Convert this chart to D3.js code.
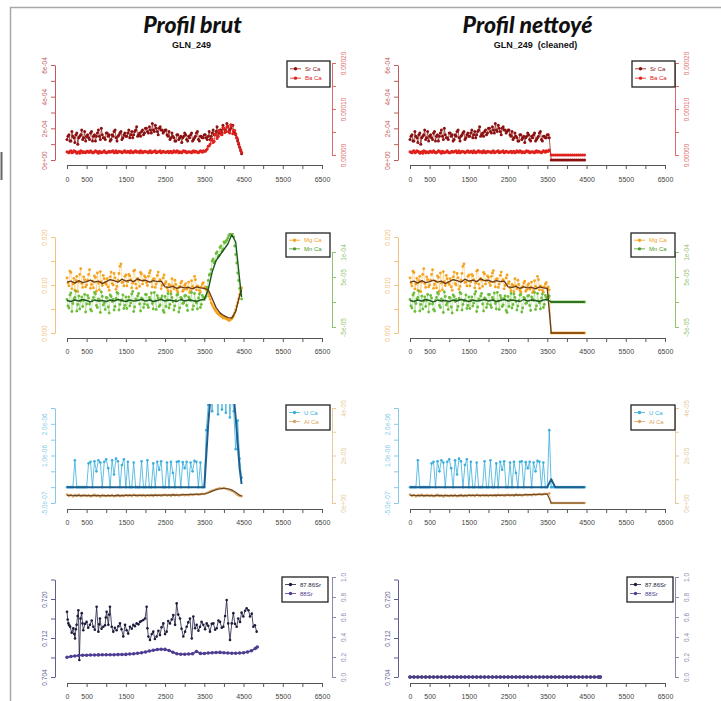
<!DOCTYPE html>
<html><head><meta charset="utf-8">
<script src="https://cdn.jsdelivr.net/npm/d3@7"></script>
<style>body{margin:0;background:#fff}svg{display:block}</style>
</head><body>
<script>
// ---------------- DATA ----------------
const titles = ["Profil brut", "Profil nettoyé"];
const subtitles = ["GLN_249", "GLN_249  (cleaned)"];

const xTicks = [0,500,1000,1500,2000,2500,3000,3500,4000,4500,5000,5500,6000,6500];
const xTickLabels = ["0","500","","1500","","2500","","3500","","4500","","5500","","6500"];

// sample positions (µm) of the raw LA profile (two interleaved acquisitions)
const dist = [0,50,100,150,200,250,300,350,400,450,
  500,550,600,650,700,750,800,850,900,950,
  1000,1050,1100,1150,1200,1250,1300,1350,1400,1450,
  1500,1550,1600,1650,1700,1750,1800,1850,1900,1950,
  2000,2050,2100,2150,2200,2250,2300,2350,2400,2450,
  2500,2550,2600,2650,2700,2750,2800,2850,2900,2950,
  3000,3050,3100,3150,3200,3250,3300,3350,3400,3450,
  3500,3550,3600,3650,3700,3750,3800,3850,3900,3950,
  4000,4050,4100,4150,4200,4250,4300,4350,4400,4450];
const dist2 = [25,75,125,175,225,275,325,375,425,475,
  525,575,625,675,725,775,825,875,925,975,
  1025,1075,1125,1175,1225,1275,1325,1375,1425,1475,
  1525,1575,1625,1675,1725,1775,1825,1875,1925,1975,
  2025,2075,2125,2175,2225,2275,2325,2375,2425,2475,
  2525,2575,2625,2675,2725,2775,2825,2875,2925,2975,
  3025,3075,3125,3175,3225,3275,3325,3375,3425,3475,
  3525,3575,3625,3675,3725,3775,3825,3875,3925,3975,
  4025,4075,4125,4175,4225,4275,4325,4375,4425];
// positions of running-mean curves
const meanDist = [0,100,200,300,400,500,600,700,800,900,1000,1100,1200,1300,1400,1500,1600,1700,1800,1900,
  2000,2100,2200,2300,2400,2500,2600,2700,2800,2900,3000,3100,3200,3300,3400,3500,3600,3700,3800,3900,
  4000,4100,4200,4300,4400,4450];
// cleaned profile: values kept up to this position, then the cleaned tail
const cleanCut = 3550;
const cleanMeanCut = 3500;
const tailDist = [3600,3650,3700,3750,3800,3850,3900,3950,4000,4050,4100,4150,4200,4250,4300,4350,4400,4450];
const tailValues = [0,0,0,0,0,0,0,0,0,0,0,0,0,0,0,0,0,0];
const tailMeanDist = [3600,3700,3800,3900,4000,4100,4200,4300,4400,4450];
const tailMeanValues = [0,0,0,0,0,0,0,0,0,0];
const tailMeanU = [0.25,0,0,0,0,0,0,0,0,0];

// Sr/Ca (x1e-4, left axis)
const srCa = [1.3,1.6,1.2,1.5,1.1,1.7,1.4,1.6,1.3,1.8,1.5,
  1.4,1.7,1.2,1.6,1.5,1.9,1.3,1.6,1.4,1.7,
  1.5,1.2,1.6,1.8,1.4,1.5,1.7,1.3,1.6,1.5,
  1.7,1.4,1.8,1.6,1.9,1.5,1.7,1.8,1.6,2.0,
  1.8,2.1,1.7,1.9,2.2,1.8,2.0,1.9,1.7,1.9,
  1.6,1.8,1.4,1.5,1.2,1.6,1.3,1.5,1.4,1.7,
  1.3,1.5,1.6,1.2,1.4,1.7,1.3,1.5,1.4,1.6,
  1.4,1.5,1.3,1.7,1.6,1.8,1.5,1.9,1.7,2.0,
  1.8,2.1,1.9,2.2,1.8,1.6,1.2,0.8,0.4];
const srCa2 = [1.5,1.2,1.8,1.4,1.6,1.0,1.5,1.9,1.4,1.2,
  1.6,1.3,1.8,1.5,1.2,1.7,1.5,2.0,1.4,1.3,
  1.7,1.6,1.3,1.5,1.9,1.2,1.6,1.8,1.4,1.7,
  1.5,1.9,1.6,1.4,1.8,2.1,1.6,1.5,1.9,1.7,
  2.0,1.7,1.9,2.3,1.8,2.0,1.6,2.1,1.9,1.8,
  1.9,1.5,1.3,1.7,1.4,1.2,1.6,1.4,1.1,1.5,
  1.6,1.2,1.4,1.7,1.3,1.5,1.8,1.2,1.5,1.4,
  1.6,1.3,1.8,1.5,1.9,1.6,2.1,1.7,1.9,2.2,
  1.9,2.3,1.8,2.0,2.2,1.7,1.4,1.0,0.6];
// Ba/Ca (x1e-5, right axis)
const baCa = [0.7,0.5,0.9,0.6,0.8,0.4,0.7,0.9,0.5,0.6,0.8,
  0.6,0.9,0.5,0.7,0.8,0.4,0.7,0.6,0.9,0.5,
  0.7,0.6,0.8,0.5,0.9,0.6,0.7,0.5,0.8,0.6,
  0.8,0.5,0.7,0.6,0.9,0.7,0.5,0.8,0.6,0.7,
  0.6,0.8,0.5,0.7,0.9,0.6,0.7,0.5,0.8,0.6,
  0.7,0.5,0.8,0.6,0.7,0.9,0.5,0.6,0.8,0.7,
  0.5,0.7,0.6,0.8,0.6,0.7,0.5,0.9,0.6,0.8,
  1.1,1.9,2.4,3.5,3.0,4.6,4.0,5.2,4.4,5.8,
  5.2,6.3,4.8,6.4,5.3,4.6,3.5,1.8,0.6];
const baCa2 = [0.6,0.8,0.5,0.9,0.7,0.6,0.4,0.8,0.7,0.5,
  0.8,0.6,0.7,0.5,0.9,0.6,0.8,0.5,0.7,0.6,
  0.5,0.8,0.7,0.9,0.6,0.5,0.8,0.7,0.6,0.9,
  0.6,0.7,0.9,0.5,0.8,0.6,0.7,0.9,0.5,0.8,
  0.7,0.5,0.9,0.6,0.8,0.5,0.7,0.9,0.6,0.7,
  0.6,0.8,0.7,0.5,0.9,0.6,0.8,0.7,0.5,0.9,
  0.8,0.6,0.7,0.5,0.9,0.8,0.6,0.7,0.8,0.9,
  0.8,1.3,2.0,3.2,2.7,4.4,3.6,5.3,4.5,6.0,
  4.9,6.1,5.0,6.6,4.6,5.3,3.8,2.6,1.2];
// Mg/Ca (x1e-3, left axis)
const mgCa = [11.5,9.8,12.6,10.2,8.9,11.8,10.6,13.4,9.5,11.1,10.0,
  12.2,9.3,10.8,11.9,8.7,10.4,12.8,9.9,11.3,10.1,
  9.6,11.7,10.3,12.4,9.1,11.0,13.9,10.5,9.8,12.1,
  10.7,11.9,9.4,12.9,10.2,11.4,9.7,12.3,10.9,11.6,
  9.9,12.5,10.6,11.2,9.5,12.0,10.8,9.2,11.5,10.3,
  9.4,10.1,8.6,9.8,11.0,8.9,9.5,10.4,8.7,9.9,
  9.1,10.6,8.8,9.7,11.8,9.0,9.6,8.5,10.2,9.3,
  9.0,8.2,7.0,5.9,5.1,4.5,4.0,3.7,3.4,3.2,
  3.0,2.8,2.7,3.0,3.6,4.8,6.3,8.0,9.4];
const mgCa2 = [10.4,12.9,9.2,11.4,10.9,8.6,12.2,10.3,11.7,9.6,
  11.0,13.2,10.1,9.4,11.6,12.5,9.0,10.7,12.0,10.5,
  11.3,8.9,12.7,10.0,11.5,9.7,12.4,14.4,10.6,11.8,
  9.8,12.2,11.1,10.4,13.1,9.3,11.0,12.6,10.2,11.9,
  10.5,11.8,13.0,9.6,11.3,10.2,12.7,11.1,9.9,12.1,
  10.7,8.8,9.9,11.3,9.2,10.1,8.5,9.7,10.8,9.0,
  10.3,9.5,8.4,10.9,9.4,11.1,9.8,8.9,9.6,10.5,
  9.6,8.5,7.6,6.3,5.5,4.8,4.2,3.9,3.5,3.1,
  3.1,2.9,2.6,2.8,3.3,4.2,5.6,7.1,8.7];
const mgMean = [10.6,10.8,10.4,10.9,10.5,10.7,11.0,10.6,10.8,10.3,
  10.7,11.1,10.9,10.6,11.2,10.8,11.0,10.7,11.3,10.9,
  11.0,10.6,10.9,10.7,10.8,9.6,9.5,9.7,9.3,9.6,9.4,9.5,9.2,9.6,9.4,
  9.3,9.0,7.2,5.3,4.2,3.6,3.2,3.1,4.5,7.8,9.0];
// Mn/Ca (x1e-5, right axis)
const mnCa = [0.5,-1.2,1.8,-0.3,0.9,-1.8,1.2,0.2,-0.9,1.5,-0.4,
  0.8,-1.5,0.3,1.9,-0.7,0.6,-2.1,1.1,-0.2,0.9,
  -1.0,1.4,0.1,-1.6,0.7,1.7,-0.5,0.4,-1.3,1.0,
  0.3,-0.8,1.6,-1.9,0.6,1.2,-0.4,0.8,-1.1,1.5,
  -0.6,0.9,1.8,-1.4,0.2,1.3,-0.9,0.7,-1.7,1.1,
  0.4,-1.2,1.6,0.1,-0.8,1.4,-2.0,0.9,-0.3,1.2,
  -0.7,1.0,0.3,-1.5,1.7,-0.2,0.8,-1.1,1.3,0.5,
  1.2,4.3,5.6,8.2,7.8,9.7,9.0,10.9,10.1,12.0,
  12.1,12.8,13.6,14.2,13.0,9.5,5.8,2.7,0.6];
const mnCa2 = [-0.8,1.4,-1.9,0.6,2.2,-0.5,-1.4,1.0,0.3,-2.0,
  1.3,-0.4,-1.8,0.9,1.6,-1.1,0.4,2.0,-0.6,-1.5,
  0.8,-2.2,1.1,0.5,-0.9,1.9,-1.6,0.2,1.4,-0.7,
  -1.3,1.0,-0.2,2.1,-1.0,0.4,1.7,-1.8,0.6,-0.4,
  1.5,-1.1,0.5,-0.3,1.9,-1.5,0.8,-0.6,1.2,-2.1,
  -0.9,1.7,-0.5,0.9,-1.6,0.3,1.5,-1.2,0.7,-0.2,
  1.3,-1.7,0.6,1.9,-0.8,0.2,-1.4,1.6,-0.5,0.9,
  0.9,2.9,5.4,6.5,8.6,8.1,10.0,9.3,11.2,10.6,
  11.8,12.4,13.3,14.0,13.8,11.2,7.8,4.3,1.5];
const mnMean = [0.3,0.1,0.4,0.2,0.5,0.3,0.0,0.4,0.2,0.3,
  0.1,0.4,0.2,0.5,0.3,0.1,0.4,0.2,0.3,0.5,
  0.2,0.4,0.1,0.3,0.5,0.2,0.4,0.3,0.1,0.5,0.2,0.4,0.3,0.1,0.4,
  0.5,2.5,6.0,8.3,9.4,10.5,11.6,13.5,12.0,4.5,1.0];
// U/Ca (x1e-6, left axis)
const uCa = [0,0,0,0,0.85,0,0,0,0,0,
  0,0.75,0.8,0,0.82,0.5,0.85,0.78,0,0.8,
  0.88,0.6,0,0.85,0.4,0.9,0.82,0,0.7,0.88,
  0,0.8,0,0,0.78,0,0,0,0.82,0,
  0,0.85,0,0,0.75,0,0.8,0.55,0.82,0,
  0,0.78,0,0.8,0.45,0,0.8,0.82,0,0.79,
  0.6,0.8,0,0.78,0.5,0.83,0.8,0,0.78,0,
  0,1.8,2.6,3.4,2.4,4.0,3.1,2.3,4.2,2.45,
  3.6,2.35,4.4,2.2,3.0,2.4,1.2,2.1,0.9,0.3];
const uMean = [0,0,0,0,0,0,0,0,0,0,0,0,0,0,0,0,0,0,0,0,
  0,0,0,0,0,0,0,0,0,0,0,0,0,0,0,0,2.0,3.5,3.5,3.5,
  3.5,3.5,3.5,2.2,0.6,0.1];
// Al/Ca (x1e-5, right axis)
const alCa = [0.36,0.30,0.34,0.28,0.33,0.31,0.35,0.29,0.32,0.34,0.30,
  0.33,0.28,0.31,0.35,0.30,0.32,0.27,0.33,0.31,0.29,
  0.32,0.30,0.34,0.28,0.31,0.33,0.29,0.32,0.30,0.34,
  0.31,0.33,0.29,0.35,0.32,0.30,0.34,0.31,0.33,0.29,
  0.34,0.31,0.33,0.30,0.35,0.32,0.34,0.31,0.33,0.35,
  0.32,0.34,0.31,0.36,0.33,0.35,0.32,0.34,0.36,0.33,
  0.35,0.33,0.37,0.34,0.36,0.38,0.35,0.37,0.39,0.38,
  0.41,0.44,0.48,0.52,0.55,0.58,0.60,0.62,0.61,0.63,
  0.60,0.58,0.55,0.52,0.47,0.40,0.34,0.30,0.29];
const alMean = [0.32,0.32,0.31,0.32,0.31,0.31,0.31,0.32,0.31,0.31,
  0.31,0.31,0.31,0.32,0.31,0.32,0.32,0.32,0.32,0.32,
  0.32,0.32,0.33,0.32,0.33,0.33,0.33,0.34,0.33,0.34,0.35,0.35,0.36,0.36,0.37,
  0.38,0.43,0.50,0.56,0.60,0.62,0.60,0.55,0.45,0.33,0.29];

// 87Sr/86Sr (left axis) and 88Sr (right axis)
const srRatioDist = [0,18,35,58,80,120,160,185,205,225,245,270,290,315,345,375,395,415,460,500,
  540,585,630,670,710,755,800,820,840,880,925,970,990,1010,1055,1075,1095,1140,1180,1220,
  1265,1310,1350,1390,1435,1480,1520,1560,1605,1650,1690,1730,1775,1820,1860,1900,1945,1990,2030,2050,
  2075,2115,2160,2200,2240,2285,2330,2370,2410,2455,2500,2540,2580,2625,2670,2710,2755,2795,2835,2880,
  2920,2965,3010,3050,3090,3135,3180,3220,3265,3305,3350,3390,3430,3475,3520,3560,3600,3645,3690,3730,
  3775,3815,3860,3900,3945,3985,4030,4070,4110,4155,4200,4240,4280,4325,4365,4410,4450,4495,4540,4580,
  4625,4665,4710,4750,4790,4835];
const srRatio = [0.7174,0.7158,0.7150,0.7146,0.7143,0.7131,0.7140,0.7128,0.7119,0.7138,0.7147,0.7165,0.7177,0.7075,0.7160,0.7171,0.7150,0.7136,0.7149,0.7153,
  0.7141,0.7147,0.7156,0.7143,0.7137,0.7184,0.7133,0.7148,0.7160,0.7139,0.7143,0.7146,0.7162,0.7174,0.7147,0.7168,0.7184,0.7143,0.7133,0.7141,
  0.7136,0.7144,0.7150,0.7138,0.7123,0.7147,0.7136,0.7129,0.7143,0.7139,0.7147,0.7144,0.7150,0.7148,0.7153,0.7155,0.7157,0.7160,0.7184,0.7140,
  0.7123,0.7116,0.7128,0.7133,0.7118,0.7123,0.7135,0.7126,0.7142,0.7150,0.7128,0.7133,0.7155,0.7150,0.7158,0.7167,0.7147,0.7191,0.7168,0.7160,
  0.7139,0.7123,0.7133,0.7143,0.7152,0.7160,0.7119,0.7164,0.7140,0.7147,0.7135,0.7143,0.7153,0.7147,0.7138,0.7150,0.7145,0.7133,0.7149,0.7150,
  0.7137,0.7140,0.7156,0.7153,0.7141,0.7143,0.7165,0.7198,0.7150,0.7116,0.7150,0.7171,0.7149,0.7143,0.7160,0.7153,0.7172,0.7164,0.7176,0.7181,
  0.7177,0.7164,0.7170,0.7143,0.7146,0.7133];
const sr88Dist = [0,100,200,300,400,500,600,700,800,900,1000,1100,1200,1300,1400,1500,1600,1700,1800,1900,
  2000,2100,2200,2300,2400,2500,2600,2700,2800,2900,3000,3100,3200,3300,3400,3500,3600,3700,3800,3900,
  4000,4100,4200,4300,4400,4500,4600,4700,4800,4850];
const sr88 = [0.197,0.205,0.21,0.215,0.217,0.218,0.22,0.22,0.221,0.222,
  0.222,0.223,0.222,0.224,0.225,0.226,0.23,0.233,0.237,0.242,
  0.25,0.26,0.268,0.275,0.278,0.276,0.265,0.248,0.232,0.228,
  0.228,0.23,0.232,0.255,0.236,0.235,0.24,0.243,0.245,0.246,
  0.243,0.24,0.238,0.238,0.24,0.243,0.25,0.262,0.285,0.3];
const srRatioClean = [0.704,0.704,0.704,0.704,0.704,0.704,0.704,0.704,0.704,0.704,
  0.704,0.704,0.704,0.704,0.704,0.704,0.704,0.704,0.704,0.704,
  0.704,0.704,0.704,0.704,0.704,0.704,0.704,0.704,0.704,0.704,
  0.704,0.704,0.704,0.704,0.704,0.704,0.704,0.704,0.704,0.704,
  0.704,0.704,0.704,0.704,0.704,0.704,0.704,0.704,0.704,0.704];
const sr88Clean = [0,0,0,0,0,0,0,0,0,0,0,0,0,0,0,0,0,0,0,0,0,0,0,0,0,
  0,0,0,0,0,0,0,0,0,0,0,0,0,0,0,0,0,0,0,0,0,0,0,0,0];

// axis ticks
const r0LeftTicks = [0,1,2,3,4,5,6], r0LeftLabels = ["0e+00","","2e-04","","4e-04","","6e-04"];
const r0RightTicks = [0,5,10,15,20], r0RightLabels = ["0.00000","","0.00010","","0.00020"];
const r1LeftTicks = [0,5,10,15,20], r1LeftLabels = ["0.000","","0.010","","0.020"];
const r1RightTicks = [-5,0,5,10], r1RightLabels = ["-5e-05","","5e-05","1e-04"];
const r2LeftTicks = [-0.5,0,0.5,1,1.5,2,2.5], r2LeftLabels = ["-5.0e-07","","","1.0e-06","","2.0e-06",""];
const r2RightTicks = [0,1,2,3,4], r2RightLabels = ["0e+00","","2e-05","","4e-05"];
const r3LeftTicks = [0.704,0.708,0.712,0.716,0.720,0.724], r3LeftLabels = ["0.704","","0.712","","0.720",""];
const r3RightTicks = [0,0.2,0.4,0.6,0.8,1.0], r3RightLabels = ["0.0","0.2","0.4","0.6","0.8","1.0"];

const legendNames = [["Sr Ca","Ba Ca"],["Mg Ca","Mn Ca"],["U Ca","Al Ca"],["87.86Sr","88Sr"]];

// ---------------- HELPERS ----------------
const pairs = (xs, ys) => xs.map((d,i)=>[d, ys[i]]);
const merged = (xa, ya, xb, yb) => pairs(xa, ya).concat(pairs(xb, yb)).sort((a,b)=>a[0]-b[0]);
const cleaned = (pts, cut, txs, tys) => pts.filter(p => p[0] <= cut).concat(pairs(txs, tys));

// ---------------- LAYOUT ----------------
const W = 721, H = 701;
const colOff = [0, 343];
const xRange = [67, 322];
const leftAxisX = 55, rightAxisX = 332;
const FONT = "'Liberation Sans', Arial, sans-serif";

const rows = [
  {lD:[0,6], lR:[160,65], lT:r0LeftTicks, lL:r0LeftLabels, lC:"#c25a5a",
   rD:[0,20], rR:[155,63], rT:r0RightTicks, rL:r0RightLabels, rC:"#e06a6a",
   xY:165, xLab:180, clip:[58,163], leg:{x:287,y:61,w:43,h:26},
   legColors:["#8b1111","#e0201c"]},
  {lD:[0,20], lR:[333,237], lT:r1LeftTicks, lL:r1LeftLabels, lC:"#f2c27e",
   rD:[-5,10], rR:[327,252], rT:r1RightTicks, rL:r1RightLabels, rC:"#8fc46a",
   xY:338, xLab:352, clip:[233,336], leg:{x:286,y:233,w:44,h:24},
   legColors:["#f5a21c","#4e9a2a"]},
  {lD:[-0.5,2.5], lR:[503,408], lT:r2LeftTicks, lL:r2LeftLabels, lC:"#86cbe6",
   rD:[0,4], rR:[503,408], rT:r2RightTicks, rL:r2RightLabels, rC:"#e8c997",
   xY:509, xLab:523, clip:[404,507], leg:{x:286,y:405,w:44,h:25},
   legColors:["#3aaedc","#d9a566"]},
  {lD:[0.704,0.724], lR:[677,579.5], lT:r3LeftTicks, lL:r3LeftLabels, lC:"#5e5e90",
   rD:[0,1], rR:[677,577], rT:r3RightTicks, rL:r3RightLabels, rC:"#8a8ab0",
   xY:683, xLab:697, clip:[574,681], leg:{x:282,y:577,w:46,h:25},
   legColors:["#1c1c3c","#4d3c92"]}
];

const svg = d3.select("body").append("svg").attr("width", W).attr("height", H)
  .style("font-family", FONT);
svg.append("rect").attr("width", W).attr("height", H).attr("fill", "#fff");
// outer frame of the figure, and the edge of the neighbouring figure
svg.append("path").attr("d", "M10.5,701 V7.5 H721").attr("fill","none")
  .attr("stroke","#a8a8a8").attr("stroke-width",1.5);
svg.append("line").attr("x1",1.5).attr("x2",1.5).attr("y1",152).attr("y2",180)
  .attr("stroke","#666").attr("stroke-width",2);

// titles
[0,1].forEach(c => {
  const cx = (xRange[0]+xRange[1])/2 + colOff[c];
  svg.append("text").attr("x", c===0 ? cx-2 : cx-10).attr("y", 33)
    .attr("text-anchor","middle").style("font-family","Lato, 'Open Sans', sans-serif")
    .style("font-weight","900").style("font-style","italic").style("font-size","23px")
    .attr("fill","#111").text(titles[c]);
  svg.append("text").attr("x", c===0 ? cx-3 : cx-2).attr("y", 48)
    .attr("text-anchor","middle").style("font-weight","bold").style("font-size","9px")
    .style("white-space","pre").attr("fill","#111").text(subtitles[c]);
});

function makePanel(col, ri, series) {
  const L = rows[ri];
  const off = colOff[col];
  const g = svg.append("g");
  const x = d3.scaleLinear().domain([0,6500]).range([xRange[0]+off, xRange[1]+off]);
  const yL = d3.scaleLinear().domain(L.lD).range(L.lR);
  const yR = d3.scaleLinear().domain(L.rD).range(L.rR);

  const ax = g.append("g").attr("transform", `translate(0,${L.xY})`)
    .call(d3.axisBottom(x).tickValues(xTicks).tickSize(4).tickSizeOuter(0)
      .tickFormat((d,i)=>xTickLabels[i]));
  ax.select(".domain").attr("stroke","#555").attr("stroke-width",1);
  ax.selectAll(".tick line").attr("stroke","#555");
  ax.selectAll(".tick text").attr("y", L.xLab - L.xY).attr("dy","0.35em")
    .attr("fill","#444").style("font-size","7px").style("font-family",FONT);

  const al = g.append("g").attr("transform", `translate(${leftAxisX+off},0)`)
    .call(d3.axisLeft(yL).tickValues(L.lT).tickSize(4).tickSizeOuter(0)
      .tickFormat((d,i)=>L.lL[i]));
  al.select(".domain").attr("stroke",L.lC);
  al.selectAll(".tick line").attr("stroke",L.lC);
  al.selectAll(".tick text").attr("transform","rotate(-90)").attr("x",0).attr("y",-8)
    .attr("dy",0).attr("text-anchor","middle").attr("fill",L.lC)
    .style("font-size","6.5px").style("font-family",FONT);

  const ar = g.append("g").attr("transform", `translate(${rightAxisX+off},0)`)
    .call(d3.axisRight(yR).tickValues(L.rT).tickSize(4).tickSizeOuter(0)
      .tickFormat((d,i)=>L.rL[i]));
  ar.select(".domain").attr("stroke",L.rC);
  ar.selectAll(".tick line").attr("stroke",L.rC);
  ar.selectAll(".tick text").attr("transform","rotate(-90)").attr("x",0).attr("y",14)
    .attr("dy",0).attr("text-anchor","middle").attr("fill",L.rC)
    .style("font-size","6.5px").style("font-family",FONT);

  const cid = `clip${col}_${ri}`;
  g.append("clipPath").attr("id",cid).append("rect")
    .attr("x", xRange[0]+off-10).attr("y", L.clip[0])
    .attr("width", xRange[1]-xRange[0]+20).attr("height", L.clip[1]-L.clip[0]);
  const pg = g.append("g").attr("clip-path", `url(#${cid})`);

  series.forEach(s => {
    const y = s.axis === "R" ? yR : yL;
    const line = d3.line().x(p=>x(p[0])).y(p=>y(p[1]));
    if (s.lineW) pg.append("path").datum(s.data).attr("d", line).attr("fill","none")
      .attr("stroke", s.lineColor || s.color).attr("stroke-width", s.lineW)
      .attr("stroke-opacity", s.lineOp || 1).attr("stroke-linejoin","round");
    if (s.r) pg.append("g").selectAll("circle").data(s.data).join("circle")
      .attr("cx", p=>x(p[0])).attr("cy", p=>y(p[1])).attr("r", s.r)
      .attr("fill", s.color).attr("fill-opacity", s.op || 1);
  });

  const lg = g.append("g").attr("transform", `translate(${L.leg.x+off+(col?2:0)},${L.leg.y})`);
  lg.append("rect").attr("width",L.leg.w).attr("height",L.leg.h).attr("fill","#fff")
    .attr("stroke","#222").attr("stroke-width",1.3);
  legendNames[ri].forEach((nm,i) => {
    const yy = L.leg.h*0.3 + i*L.leg.h*0.36;
    lg.append("line").attr("x1",3).attr("x2",14).attr("y1",yy).attr("y2",yy)
      .attr("stroke",L.legColors[i]).attr("stroke-width",0.8);
    lg.append("circle").attr("cx",8.5).attr("cy",yy).attr("r",1.7).attr("fill",L.legColors[i]);
    lg.append("text").attr("x",18).attr("y",yy).attr("dy","0.35em")
      .style("font-size","6px").attr("fill",L.legColors[i]).text(nm);
  });
}

// ---------------- PANELS ----------------
const srPts = merged(dist, srCa, dist2, srCa2);
const baPts = merged(dist, baCa, dist2, baCa2);
const mgPts = merged(dist, mgCa, dist2, mgCa2);
const mnPts = merged(dist, mnCa, dist2, mnCa2);

makePanel(0, 0, [
  {data:srPts, axis:"L", color:"#8b1111", r:1.5, lineW:0.7},
  {data:baPts, axis:"R", color:"#e0201c", r:1.5, lineW:0.7}
]);
makePanel(1, 0, [
  {data:cleaned(srPts,cleanCut,tailDist,tailValues), axis:"L", color:"#8b1111", r:1.5, lineW:0.7},
  {data:cleaned(baPts,cleanCut,tailDist,tailValues), axis:"R", color:"#e0201c", r:1.5, lineW:0.9}
]);
makePanel(0, 1, [
  {data:mgPts, axis:"L", color:"#f5a21c", r:1.4, lineW:0.45, lineOp:0.8},
  {data:mnPts, axis:"R", color:"#6cbd3a", r:1.4, lineW:0.45, lineOp:0.8},
  {data:pairs(meanDist,mgMean), axis:"L", color:"#6b3a12", lineW:1.4},
  {data:pairs(meanDist,mnMean), axis:"R", color:"#1e5a1e", lineW:1.4}
]);
makePanel(1, 1, [
  {data:cleaned(mgPts,cleanCut,tailDist,tailValues), axis:"L", color:"#f5a21c", r:1.4, lineW:0.45, lineOp:0.8},
  {data:cleaned(mnPts,cleanCut,tailDist,tailValues), axis:"R", color:"#6cbd3a", r:1.4, lineW:0.45, lineOp:0.8},
  {data:cleaned(pairs(meanDist,mgMean),cleanMeanCut,tailMeanDist,tailMeanValues), axis:"L", color:"#6b3a12", lineW:1.4},
  {data:cleaned(pairs(meanDist,mnMean),cleanMeanCut,tailMeanDist,tailMeanValues), axis:"R", color:"#1e5a1e", lineW:1.4}
]);
makePanel(0, 2, [
  {data:pairs(dist,alCa), axis:"R", color:"#d9a566", r:1.3, lineW:0.6},
  {data:pairs(meanDist,alMean), axis:"R", color:"#6e4a26", lineW:1.2},
  {data:pairs(dist,uCa), axis:"L", color:"#3aaedc", r:1.3, lineW:0.8},
  {data:pairs(meanDist,uMean), axis:"L", color:"#1d5f90", lineW:2}
]);
makePanel(1, 2, [
  {data:cleaned(pairs(dist,alCa),cleanCut,tailDist,tailValues), axis:"R", color:"#d9a566", r:1.3, lineW:0.6},
  {data:cleaned(pairs(meanDist,alMean),cleanMeanCut,tailMeanDist,tailMeanValues), axis:"R", color:"#6e4a26", lineW:1.2},
  {data:cleaned(pairs(dist,uCa),cleanCut,tailDist,tailValues), axis:"L", color:"#3aaedc", r:1.3, lineW:0.8},
  {data:cleaned(pairs(meanDist,uMean),cleanMeanCut,tailMeanDist,tailMeanU), axis:"L", color:"#1d5f90", lineW:2}
]);
makePanel(0, 3, [
  {data:pairs(srRatioDist,srRatio), axis:"L", color:"#1c1c3c", r:1.3, lineW:0.8},
  {data:pairs(sr88Dist,sr88), axis:"R", color:"#4d3c92", r:1.8, lineW:1.5}
]);
makePanel(1, 3, [
  {data:pairs(sr88Dist,srRatioClean), axis:"L", color:"#1c1c3c", r:1.8, lineW:1},
  {data:pairs(sr88Dist,sr88Clean), axis:"R", color:"#4d3c92", r:1.5, lineW:1}
]);
</script>
</body></html>
